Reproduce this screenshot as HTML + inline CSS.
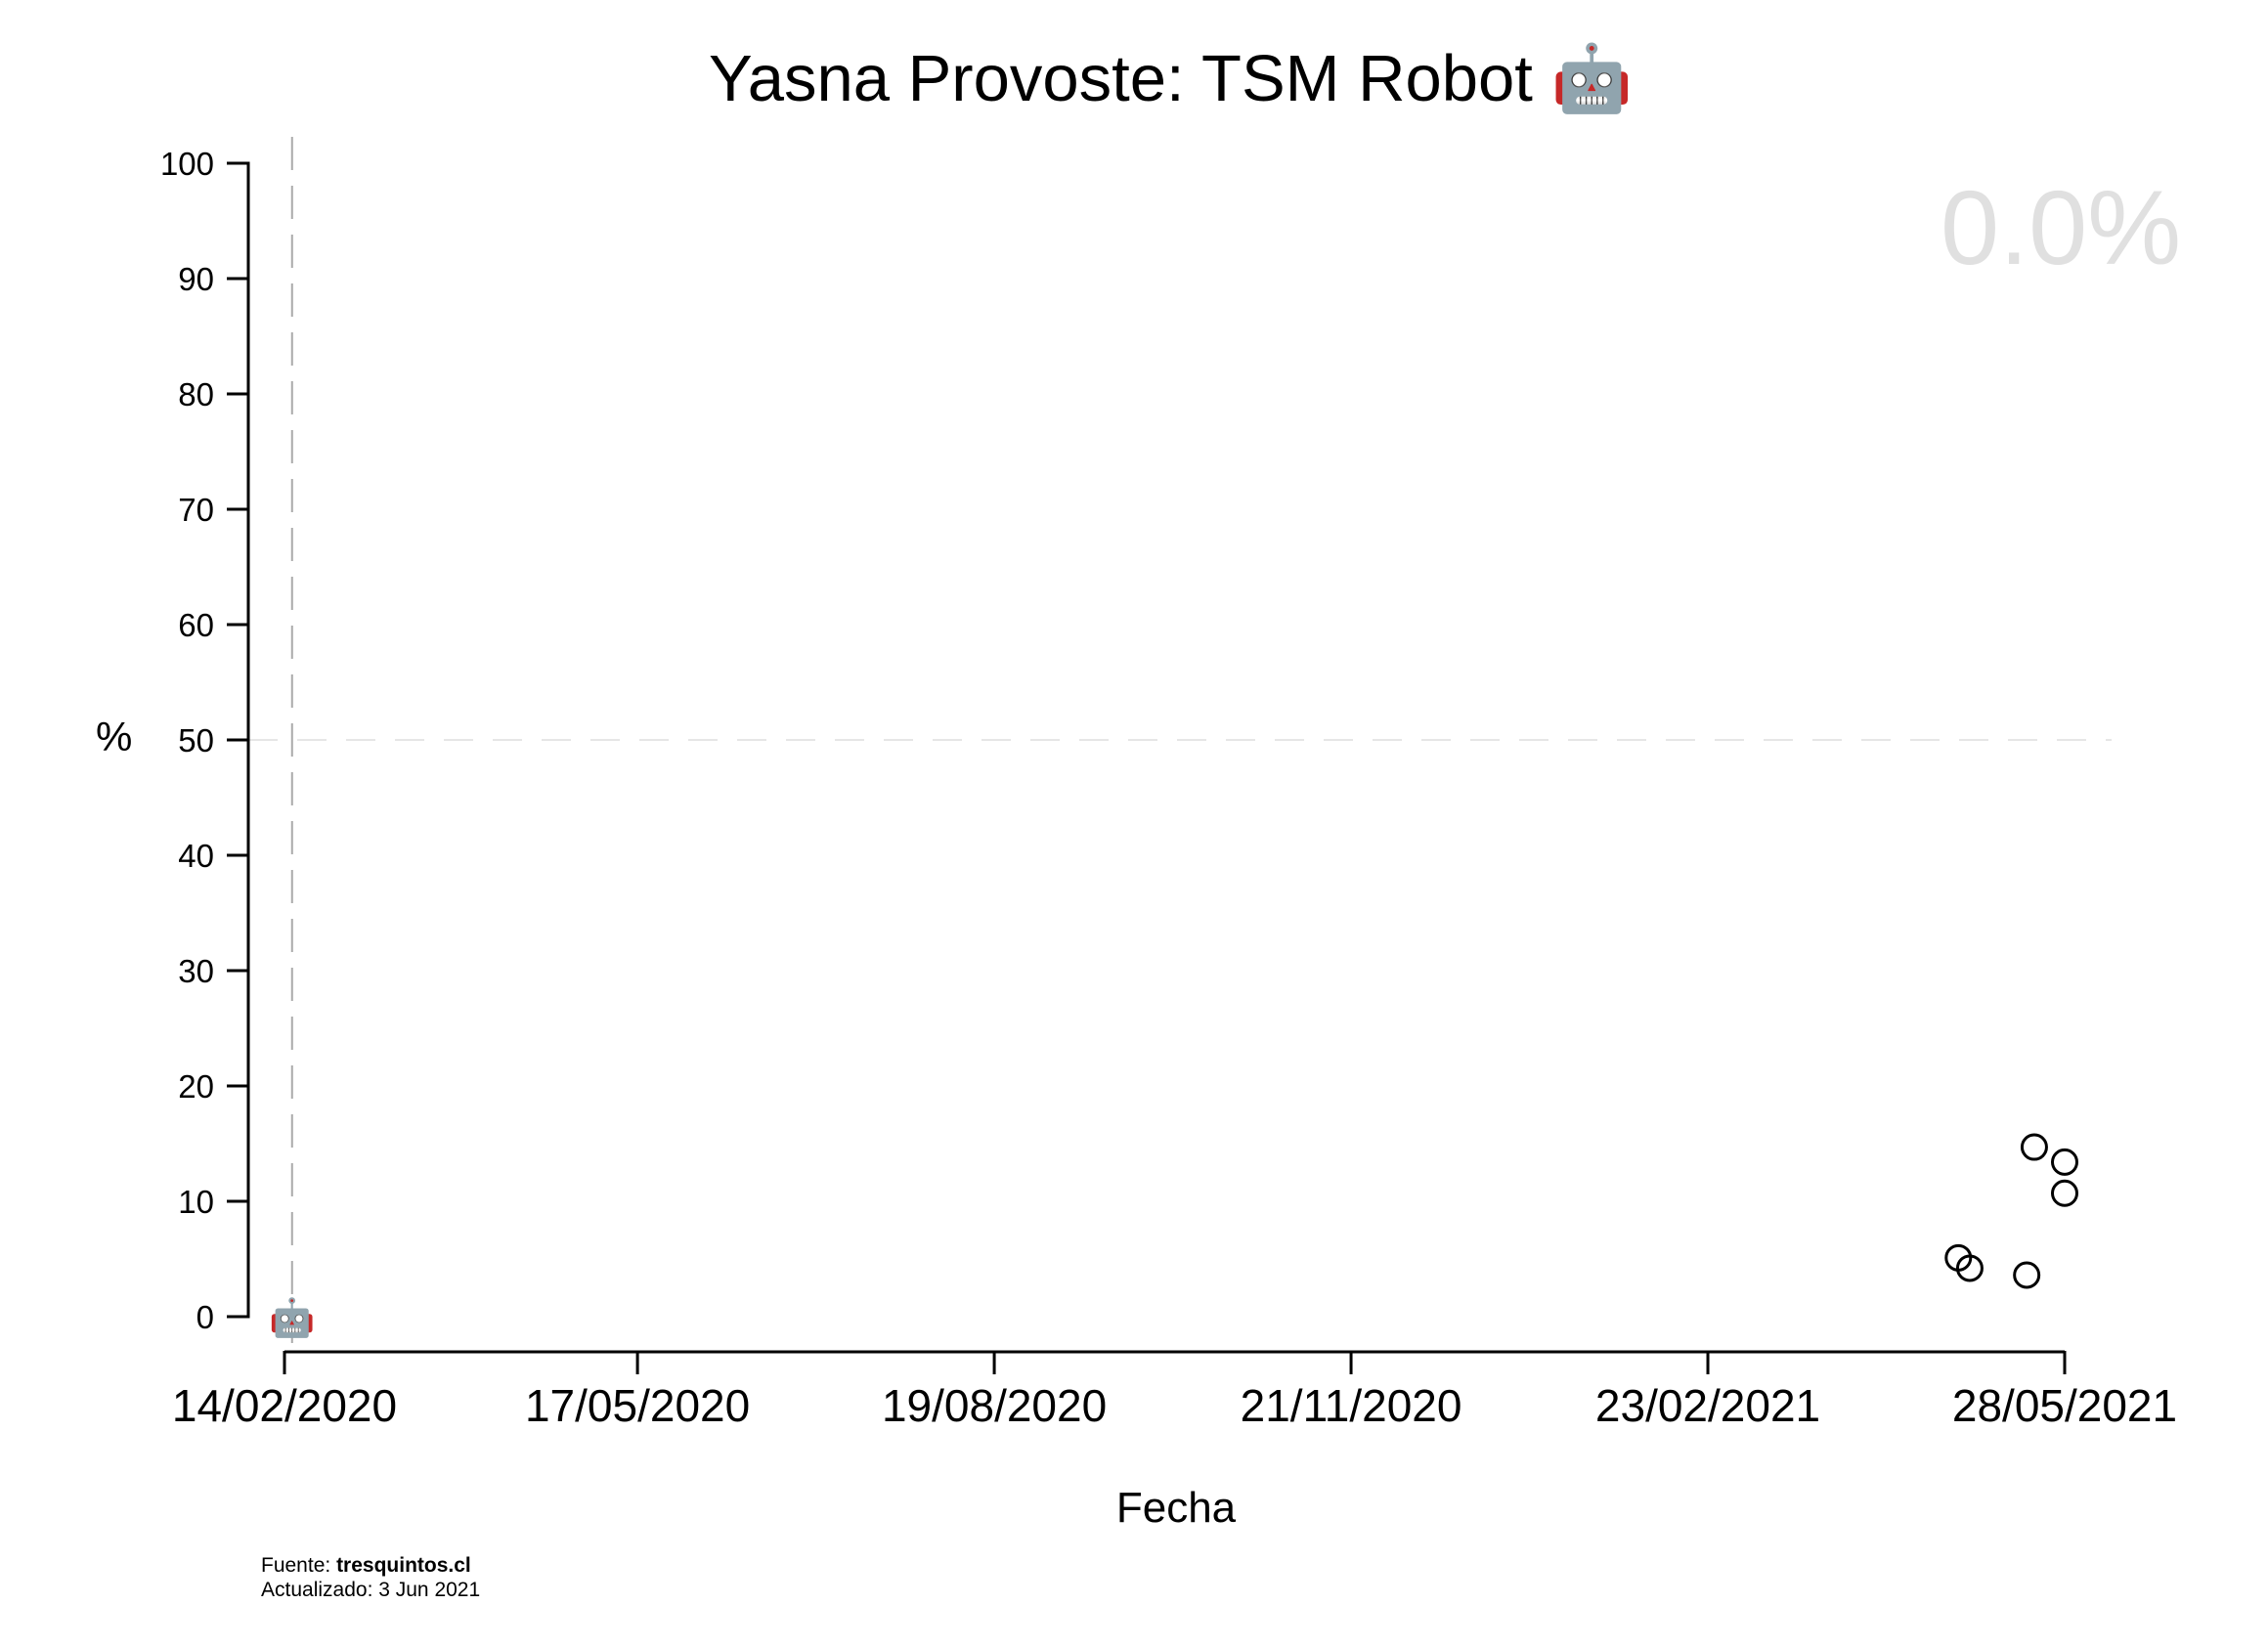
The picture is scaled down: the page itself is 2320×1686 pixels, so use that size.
<!DOCTYPE html>
<html><head><meta charset="utf-8"><style>
html,body{margin:0;padding:0;background:#fff;}
svg{display:block;font-family:"Liberation Sans",sans-serif;}
</style></head><body>
<svg id="chart" width="2320" height="1686" viewBox="0 0 2320 1686" xmlns="http://www.w3.org/2000/svg">
<text x="725" y="103" font-size="67" fill="#000">Yasna Provoste: TSM Robot <tspan font-family="'Noto Color Emoji',sans-serif">🤖</tspan></text>
<text x="1985" y="270" font-size="108" fill="#e0e0e0">0.0%</text>
<text x="98" y="768" font-size="42" fill="#000">%</text>
<text x="1203" y="1557" font-size="44" text-anchor="middle" fill="#000">Fecha</text>
<text x="267" y="1608" font-size="21" fill="#000">Fuente: <tspan font-weight="bold">tresquintos.cl</tspan></text>
<text x="267" y="1633" font-size="21" fill="#000">Actualizado: 3 Jun 2021</text>
<g id="plot"></g>
</svg>
<script>
const yTicks = [0,10,20,30,40,50,60,70,80,90,100];
const xTickDates = ["2020-02-14","2020-05-17","2020-08-19","2020-11-21","2021-02-23","2021-05-28"];
const xTickLabels = ["14/02/2020","17/05/2020","19/08/2020","21/11/2020","23/02/2021","28/05/2021"];
const pointDates = ["2021-04-30","2021-05-03","2021-05-18","2021-05-20","2021-05-28","2021-05-28"];
const pointValues = [5.1,4.2,3.6,14.7,13.4,10.7];
const markerDate = "2020-02-16";
const markerValue = 0;

const NS="http://www.w3.org/2000/svg";
const g=document.getElementById('plot');
const d0=Date.parse("2020-02-14"), d1=Date.parse("2021-05-28");
function xs(d){return 291+(Date.parse(d)-d0)/(d1-d0)*(2112-291);}
function ys(v){return 1347-v*11.8;}
function mk(tag,attrs){const e=document.createElementNS(NS,tag);for(const k in attrs)e.setAttribute(k,attrs[k]);g.appendChild(e);return e;}

let e;
e=mk('line',{x1:254,x2:2160,y1:ys(50),y2:ys(50),stroke:'#ddd','stroke-width':1.5,'stroke-dasharray':'30 20'});


e=mk('line',{x1:xs(markerDate),x2:xs(markerDate),y1:140,y2:1383,stroke:'#aaa','stroke-width':2,'stroke-dasharray':'34 16'});



e=mk('path',{d:`M232,${ys(100)}H254V${ys(0)}H232`,fill:'none',stroke:'#000','stroke-width':3});


yTicks.forEach(v=>{
  const t=mk('line',{x1:232,x2:254,y1:ys(v),y2:ys(v),stroke:'#000','stroke-width':3});
  
  
  const l=mk('text',{x:219,y:ys(v)+12,'font-size':33,'text-anchor':'end',fill:'#000'});
  l.textContent=v;
  
  
});
e=mk('line',{x1:xs(xTickDates[0]),x2:xs(xTickDates[xTickDates.length-1]),y1:1383,y2:1383,stroke:'#000','stroke-width':3});


xTickDates.forEach((d,i)=>{
  const t=mk('line',{x1:xs(d),x2:xs(d),y1:1382,y2:1406,stroke:'#000','stroke-width':3});
  
  
  const l=mk('text',{x:xs(d),y:1454,'font-size':46,'text-anchor':'middle',fill:'#000'});
  l.textContent=xTickLabels[i];
  
  
});
pointDates.forEach((d,i)=>{
  const c=mk('circle',{cx:xs(d),cy:ys(pointValues[i]),r:12.5,fill:'none',stroke:'#000','stroke-width':3});
  
  
});
e=mk('text',{x:xs(markerDate),y:ys(markerValue)+14,'font-size':38,'text-anchor':'middle','font-family':"'Noto Color Emoji',sans-serif"});
e.textContent='🤖';


</script>
</body></html>
